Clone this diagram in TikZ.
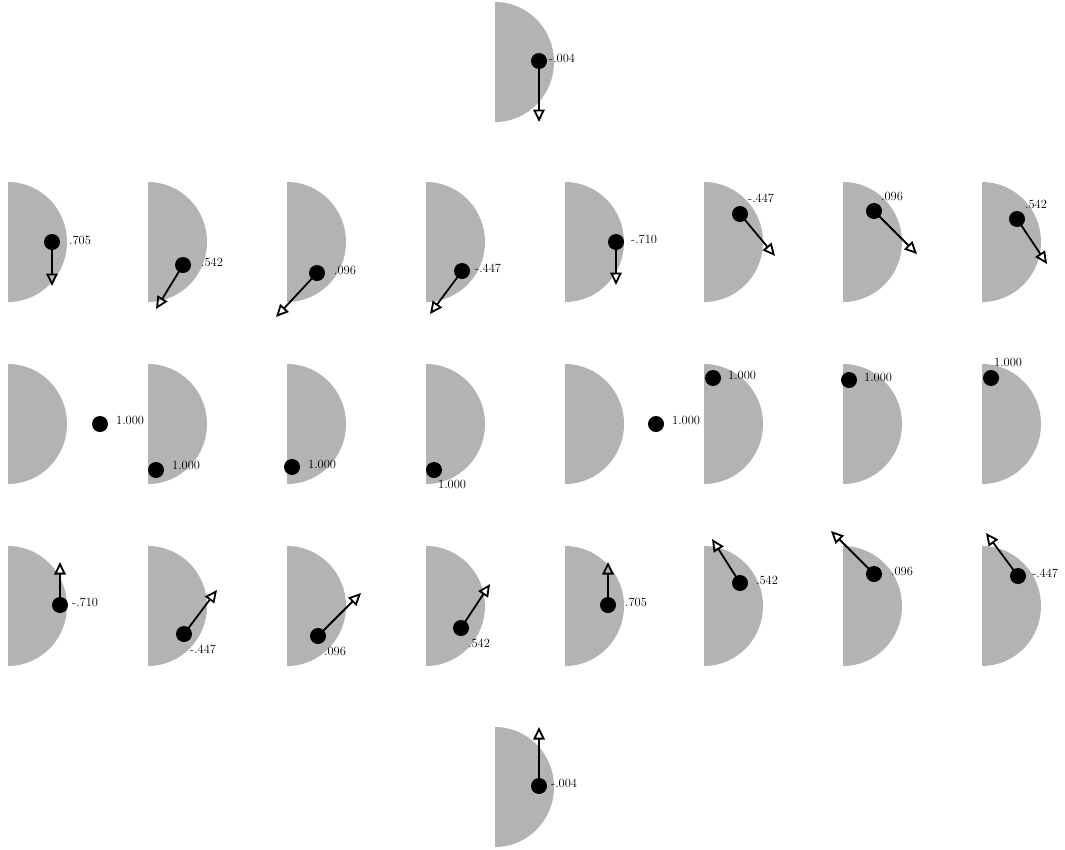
\documentclass[tikz,border=0pt]{standalone}
\usetikzlibrary{arrows.meta}
\definecolor{halfgray}{RGB}{179,179,179}
\tikzset{
  halfdisk/.style={fill=halfgray, draw=none},
  dot/.style={circle, fill=black, draw=none, minimum size=16pt, inner sep=0pt},
  vec/.style={line width=1.8pt, -{Triangle[open, length=12.5pt, width=11.5pt, line width=1.8pt]}},
  lab/.style={anchor=west, inner sep=0pt, font=\fontsize{12.5}{14}\selectfont}
}
\newcommand\mydisk[2]{\fill[halfdisk] (#1,#2-60) arc[start angle=-90, end angle=90, x radius=59, y radius=60] -- cycle;}
\newcommand\myvec[8]{%
  \node[dot] (#1) at (#2,#3) {};
  \coordinate (#1t) at (#4,#5);
  \draw[vec] (#1.center) -- (#1t);
  \node[lab] (#1l) at (#7,#8) {#6};
}
\newcommand\mydot[6]{%
  \node[dot] (#1) at (#2,#3) {};
  \node[lab] (#1l) at (#5,#6) {#4};
}
\begin{document}
\begin{tikzpicture}[x=1pt,y=-1pt]
\useasboundingbox (0,0) rectangle (1065,849);
% top
\mydisk{495}{62}
\myvec{t}{539}{61}{539}{122}{-.004}{549}{58}
% row 1
\mydisk{8}{242}\mydisk{148}{242}\mydisk{287}{242}\mydisk{426}{242}
\mydisk{565}{242}\mydisk{704}{242}\mydisk{843}{242}\mydisk{982}{242}
\myvec{a1}{52}{242}{52}{286}{.705}{69}{240}
\myvec{a2}{183}{265}{156}{309}{.542}{201}{262}
\myvec{a3}{317}{273}{276}{317}{.096}{334}{270}
\myvec{a4}{462}{271}{430}{314}{-.447}{475}{268}
\myvec{a5}{616}{242}{616}{285}{-.710}{631}{239}
\myvec{a6}{740}{214}{775}{256}{-.447}{748}{198}
\myvec{a7}{874}{211}{917}{254}{.096}{881}{196}
\myvec{a8}{1017}{219}{1047}{264}{.542}{1025}{204}
% row 2
\mydisk{8}{424}\mydisk{148}{424}\mydisk{287}{424}\mydisk{426}{424}
\mydisk{565}{424}\mydisk{704}{424}\mydisk{843}{424}\mydisk{982}{424}
\mydot{b1}{100}{424}{1.000}{116}{420}
\mydot{b2}{156}{470}{1.000}{172}{465}
\mydot{b3}{292}{467}{1.000}{308}{464}
\mydot{b4}{434}{470}{1.000}{438}{484}
\mydot{b5}{656}{424}{1.000}{672}{420}
\mydot{b6}{713}{378}{1.000}{728}{375}
\mydot{b7}{849}{380}{1.000}{864}{377}
\mydot{b8}{991}{378}{1.000}{994}{362}
% row 3
\mydisk{8}{606}\mydisk{148}{606}\mydisk{287}{606}\mydisk{426}{606}
\mydisk{565}{606}\mydisk{704}{606}\mydisk{843}{606}\mydisk{982}{606}
\myvec{c1}{60}{605}{60}{562}{-.710}{72}{602}
\myvec{c2}{184}{634}{217}{590}{-.447}{190}{649}
\myvec{c3}{318}{636}{361}{593}{.096}{324}{651}
\myvec{c4}{461}{628}{490}{584}{.542}{468}{643}
\myvec{c5}{608}{605}{608}{562}{.705}{625}{602}
\myvec{c6}{740}{583}{712}{539}{.542}{756}{580}
\myvec{c7}{874}{574}{831}{531}{.096}{891}{571}
\myvec{c8}{1018}{576}{986}{533}{-.447}{1032}{573}
% bottom
\mydisk{495}{787}
\myvec{u}{539}{786}{539}{727}{-.004}{551}{783}
\end{tikzpicture}
\end{document}
